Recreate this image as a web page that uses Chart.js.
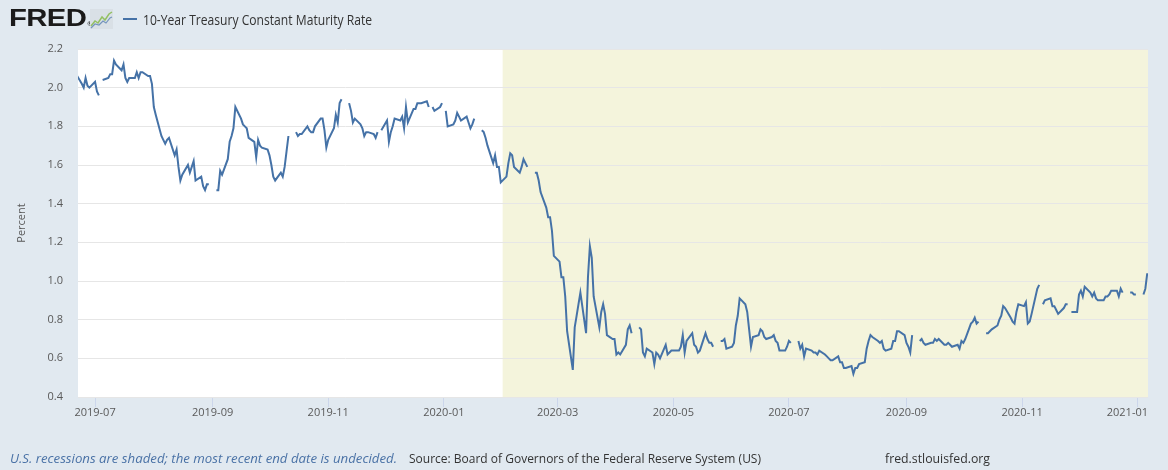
<!DOCTYPE html>
<html>
<head>
<meta charset="utf-8">
<script src="https://cdn.jsdelivr.net/npm/chart.js@4.4.1/dist/chart.umd.min.js"></script>
<style>
  html, body { margin: 0; padding: 0; }
  body { width: 1168px; height: 470px; background: #e1e9f0; position: relative; overflow: hidden; font-family: 'Open Sans', sans-serif; }
  #chartBox { position: absolute; left: 0; top: 0; width: 1168px; height: 470px; }
  .logo { position: absolute; left: 9px; top: 4px; font: bold 24px 'Liberation Sans', Arial, sans-serif; color: #1b1b1b; transform: scaleX(1.22); transform-origin: left top; letter-spacing: -0.5px; }
  .logo sup { font-size: 5px; vertical-align: 0; margin-left: 1px; }
  .legendLine { position: absolute; left: 123px; top: 18px; width: 14px; height: 2px; background: #4572a7; }
  .txt { position: absolute; white-space: nowrap; transform-origin: left center; }
  #legendText { left: 143px; top: 10px; font-size: 14px; line-height: 20px; color: #333; }
  #note { left: 10px; top: 450px; font-size: 13px; line-height: 16px; color: #4a72a6; font-style: italic; }
  #source { left: 409px; top: 450px; font-size: 13px; line-height: 16px; color: #333; }
  #url { left: 885px; top: 450px; font-size: 13px; line-height: 16px; color: #333; }
</style>
</head>
<body>
<div id="chartBox"><canvas id="rateChart" width="1168" height="470"></canvas></div>
<div class="logo">FRED<sup>®</sup></div>
<svg style="position:absolute;left:90px;top:9px" width="23" height="20" viewBox="0 0 23 20">
  <rect width="23" height="20" fill="#d9e0e6"/>
  <polyline points="1,17 5,12 8,14 12,8 15,11 19,5 22,3" fill="none" stroke="#93c062" stroke-width="1.5"/>
  <polyline points="1,19 5,15 9,16 13,12 16,14 20,9 22,8" fill="none" stroke="#7595bd" stroke-width="1.2"/>
</svg>
<div class="legendLine"></div>
<div class="txt" id="legendText">10-Year Treasury Constant Maturity Rate</div>
<div class="txt" id="note">U.S. recessions are shaded; the most recent end date is undecided.</div>
<div class="txt" id="source">Source: Board of Governors of the Federal Reserve System (US)</div>
<div class="txt" id="url">fred.stlouisfed.org</div>

<script>
// daily 10-year rate, one value per weekday of the month (null = market holiday)
const jun19 = [2.07, 2.02, 2.00, 2.05, 2.01, 2.00]; // from Jun 21
const jul19 = [2.03, 1.98, 1.96, null, 2.04, 2.05, 2.07, 2.07, 2.14, 2.12, 2.09, 2.12, 2.05, 2.03, 2.05, 2.05, 2.08, 2.05, 2.08, 2.08, 2.06, 2.06, 2.02];
const aug19 = [1.90, 1.86, 1.75, 1.73, 1.71, 1.73, 1.74, 1.65, 1.68, 1.59, 1.52, 1.55, 1.60, 1.56, 1.59, 1.62, 1.52, 1.54, 1.49, 1.47, 1.50, 1.50];
const sep19 = [null, 1.47, 1.47, 1.57, 1.55, 1.63, 1.72, 1.75, 1.79, 1.90, 1.84, 1.81, 1.80, 1.79, 1.74, 1.72, 1.64, 1.73, 1.70, 1.69, 1.68];
const oct19 = [1.65, 1.60, 1.54, 1.52, 1.56, 1.54, 1.59, 1.67, 1.75, null, 1.77, 1.75, 1.76, 1.76, 1.80, 1.78, 1.77, 1.77, 1.80, 1.84, 1.84, 1.78, 1.69];
const nov19 = [1.73, 1.79, 1.86, 1.82, 1.92, 1.94, null, 1.92, 1.88, 1.82, 1.84, 1.81, 1.79, 1.75, 1.77, 1.77, 1.76, 1.74, 1.77, null, 1.78];
const dec19 = [1.83, 1.72, 1.77, 1.80, 1.84, 1.83, 1.85, 1.79, 1.90, 1.82, 1.89, 1.89, 1.92, 1.92, 1.92, 1.93, 1.90, null, 1.90, 1.88, 1.90, 1.92];
const jan20 = [null, 1.88, 1.80, 1.81, 1.83, 1.87, 1.85, 1.83, 1.85, 1.82, 1.79, 1.81, 1.84, null, 1.78, 1.77, 1.74, 1.70, 1.61, 1.65, 1.59, 1.59, 1.51];
const feb20 = [1.54, 1.61, 1.66, 1.65, 1.59, 1.56, 1.59, 1.63, 1.61, 1.59, null, 1.56, 1.56, 1.52, 1.46, 1.38, 1.33, 1.33, 1.26, 1.13];
const mar20 = [1.10, 1.02, 1.02, 0.92, 0.74, 0.54, 0.76, 0.82, 0.88, 0.94, 0.73, 1.02, 1.18, 1.12, 0.92, 0.76, 0.84, 0.88, 0.83, 0.72, 0.70, 0.70];
const apr20 = [0.62, 0.63, 0.62, 0.67, 0.75, 0.77, 0.73, null, 0.76, 0.75, 0.63, 0.61, 0.65, 0.63, 0.57, 0.63, 0.62, 0.60, 0.67, 0.62, 0.63, 0.64];
const may20 = [0.64, 0.64, 0.66, 0.72, 0.63, 0.69, 0.73, 0.67, 0.66, 0.63, 0.64, 0.73, 0.70, 0.68, 0.68, 0.66, null, 0.69, 0.69, 0.70, 0.65];
const jun20 = [0.66, 0.68, 0.77, 0.82, 0.91, 0.88, 0.84, 0.75, 0.66, 0.71, 0.72, 0.75, 0.74, 0.71, 0.70, 0.71, 0.72, 0.69, 0.68, 0.64, 0.64, 0.66];
const jul20 = [0.69, 0.68, null, 0.69, 0.65, 0.67, 0.61, 0.65, 0.64, 0.63, 0.63, 0.62, 0.64, 0.62, 0.61, 0.60, 0.59, 0.59, 0.61, 0.58, 0.58, 0.55, 0.55];
const aug20 = [0.56, 0.52, 0.55, 0.55, 0.57, 0.58, 0.65, 0.69, 0.72, 0.71, 0.69, 0.68, 0.69, 0.65, 0.64, 0.65, 0.69, 0.69, 0.74, 0.74, 0.72];
const sep20 = [0.68, 0.66, 0.63, 0.72, null, 0.69, 0.70, 0.68, 0.67, 0.68, 0.68, 0.70, 0.69, 0.70, 0.67, 0.67, 0.68, 0.67, 0.66, 0.67, 0.65, 0.69];
const oct20 = [0.68, 0.70, 0.78, 0.79, 0.81, 0.78, 0.79, null, 0.73, 0.73, 0.74, 0.75, 0.77, 0.80, 0.82, 0.87, 0.86, 0.81, 0.79, 0.78, 0.84, 0.88];
const nov20 = [0.87, 0.89, 0.78, 0.79, 0.83, 0.96, 0.98, null, 0.88, 0.90, 0.91, 0.87, 0.87, 0.85, 0.83, 0.86, 0.88, 0.88, null, 0.84, 0.84];
const dec20 = [0.93, 0.95, 0.92, 0.97, 0.94, 0.92, 0.94, 0.91, 0.90, 0.90, 0.92, 0.92, 0.93, 0.95, 0.95, 0.92, 0.96, 0.94, null, 0.94, 0.94, 0.93, 0.93];
const jan21 = [null, 0.93, 0.96, 1.04];

const months = [
  ['2019-06', 21, jun19], ['2019-07', 1, jul19], ['2019-08', 1, aug19], ['2019-09', 1, sep19],
  ['2019-10', 1, oct19], ['2019-11', 1, nov19], ['2019-12', 1, dec19], ['2020-01', 1, jan20],
  ['2020-02', 1, feb20], ['2020-03', 1, mar20], ['2020-04', 1, apr20], ['2020-05', 1, may20],
  ['2020-06', 1, jun20], ['2020-07', 1, jul20], ['2020-08', 1, aug20], ['2020-09', 1, sep20],
  ['2020-10', 1, oct20], ['2020-11', 1, nov20], ['2020-12', 1, dec20], ['2021-01', 1, jan21],
];

const tickLabels = ['2019-07', '2019-09', '2019-11', '2020-01', '2020-03', '2020-05', '2020-07', '2020-09', '2020-11', '2021-01'];
const yTicks = [0.4, 0.6, 0.8, 1.0, 1.2, 1.4, 1.6, 1.8, 2.0, 2.2];
const recessionStart = '2020-02-01';
const seriesName = '10-Year Treasury Constant Maturity Rate';

const DAY = 86400000;
function dayOf(str) {
  const [y, m, d] = str.split('-').map(Number);
  return Date.UTC(y, m - 1, d || 1) / DAY;
}
function weekdaysOf(ym, fromDay) {
  const [y, m] = ym.split('-').map(Number);
  const out = [];
  for (let d = fromDay; d <= 31; d++) {
    const t = new Date(Date.UTC(y, m - 1, d));
    if (t.getUTCMonth() !== m - 1) break;
    const wd = t.getUTCDay();
    if (wd !== 0 && wd !== 6) out.push(t.getTime() / DAY);
  }
  return out;
}

const points = [];
months.forEach(([ym, from, vals]) => {
  const days = weekdaysOf(ym, from);
  vals.forEach((v, i) => points.push({ x: days[i], y: v }));
});

const xMin = dayOf('2019-06-22');
const xMax = dayOf('2021-01-06') + 0.4;

const backdrop = {
  id: 'backdrop',
  beforeDraw(chart) {
    const { ctx, chartArea: a, scales: { x } } = chart;
    ctx.save();
    ctx.fillStyle = '#ffffff';
    ctx.fillRect(a.left, a.top, a.right - a.left, a.bottom - a.top);
    const rx = x.getPixelForValue(dayOf(recessionStart));
    ctx.fillStyle = '#f4f4dc';
    ctx.fillRect(rx, a.top, a.right - rx, a.bottom - a.top);
    ctx.restore();
  },
  afterDraw(chart) {
    const { ctx, chartArea: a, scales: { x } } = chart;
    ctx.save();
    ctx.font = "11px 'Open Sans', sans-serif";
    ctx.fillStyle = '#595959';
    ctx.textAlign = 'center';
    ctx.textBaseline = 'middle';
    tickLabels.forEach(lbl => {
      const w = ctx.measureText(lbl).width;
      let px = x.getPixelForValue(dayOf(lbl));
      px = Math.min(px, a.right - w / 2);
      ctx.fillText(lbl, px, 413);
    });
    ctx.restore();
  }
};

Chart.defaults.font.family = "'Open Sans', sans-serif";
Chart.defaults.font.size = 11;
Chart.defaults.color = '#595959';

new Chart(document.getElementById('rateChart'), {
  type: 'line',
  data: {
    datasets: [{
      label: seriesName,
      data: points,
      borderColor: '#4572a7',
      borderWidth: 2,
      pointRadius: 0,
      tension: 0,
      spanGaps: false,
    }],
  },
  options: {
    responsive: false,
    animation: false,
    layout: { padding: { left: 0, right: 20, top: 49, bottom: 43 } },
    plugins: { legend: { display: false }, tooltip: { enabled: false } },
    scales: {
      x: {
        type: 'linear',
        min: xMin,
        max: xMax,
        afterBuildTicks(scale) { scale.ticks = tickLabels.map(l => ({ value: dayOf(l) })); },
        afterFit(scale) { scale.height = 30; },
        ticks: { display: false },
        grid: { drawOnChartArea: false, drawTicks: true, tickLength: 10, color: '#ccd6eb' },
        border: { display: false },
      },
      y: {
        min: 0.4,
        max: 2.2,
        afterBuildTicks(scale) { scale.ticks = yTicks.map(v => ({ value: v })); },
        afterFit(scale) { scale.width = 78; },
        ticks: { padding: 15, callback: v => v.toFixed(1) },
        grid: { color: '#e6e6e6', drawTicks: false },
        border: { display: false },
        title: { display: true, text: 'Percent', padding: { top: 15, bottom: 0 }, color: '#595959' },
      },
    },
  },
  plugins: [backdrop],
});

// condensed header/footer texts, matched to the reference widths
function fitWidth(id, target) {
  const el = document.getElementById(id);
  const w = el.getBoundingClientRect().width;
  el.style.transform = 'scaleX(' + (target / w) + ')';
}
fitWidth('legendText', 229);
fitWidth('note', 387);
fitWidth('source', 352);
fitWidth('url', 105);
</script>
</body>
</html>
